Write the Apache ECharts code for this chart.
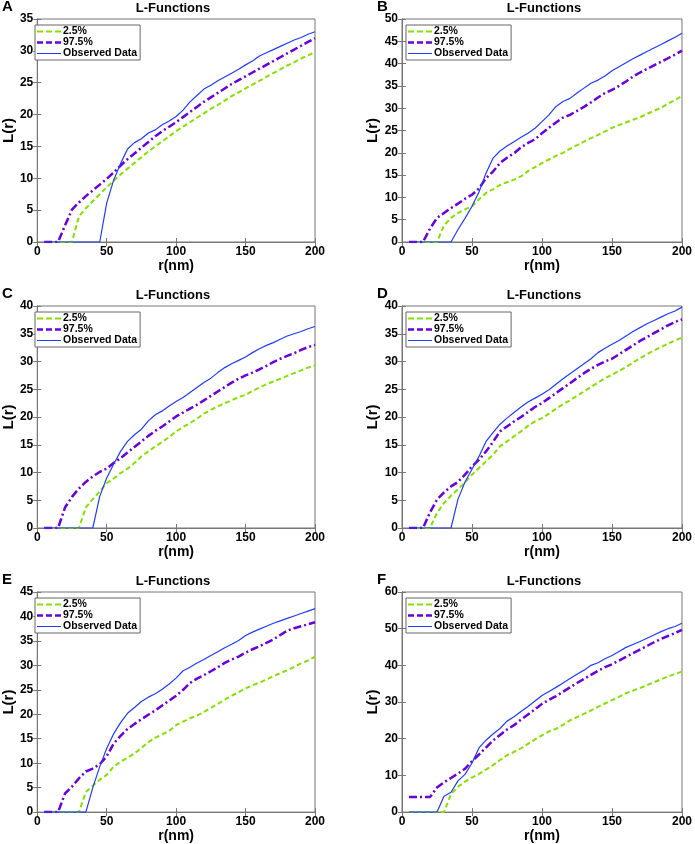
<!DOCTYPE html>
<html>
<head>
<meta charset="utf-8">
<title>L-Functions</title>
<script src="https://cdn.jsdelivr.net/npm/echarts@6/dist/echarts.min.js"></script>
<style>
  html, body { margin: 0; padding: 0; background: #fff; }
  #main { width: 695px; height: 844px; }
</style>
</head>
<body>
<div id="main"></div>
<script>
// r (nm), shared by every panel
const radius = [5, 10, 15, 20, 25, 30, 35, 40, 45, 50, 55, 60, 65, 70, 75, 80, 85, 90, 95, 100,
    105, 110, 115, 120, 125, 130, 135, 140, 145, 150, 155, 160, 165, 170, 175, 180, 185, 190, 195, 200];

const panelLetters = ['A', 'B', 'C', 'D', 'E', 'F'];
const seriesNames = ['2.5%', '97.5%', 'Observed Data'];
const xTicks = [0, 50, 100, 150, 200];
const yMax = [35, 50, 40, 40, 45, 60];
const yStep = [5, 5, 5, 5, 5, 10];

// A
const lowA = [0, 0, 0, 0, 0, 4.0, 5.3, 6.4, 7.5, 8.6, 9.6, 10.6, 11.5, 12.4, 13.3, 14.2, 15.0, 15.8, 16.6, 17.4,
    18.1, 18.8, 19.5, 20.2, 20.9, 21.5, 22.2, 22.9, 23.5, 24.1, 24.7, 25.3, 25.9, 26.5, 27.1, 27.7, 28.2, 28.8, 29.3, 29.8];
const highA = [0, 0, 0, 2.6, 5.1, 6.2, 7.2, 8.1, 9.0, 9.9, 10.9, 12.0, 13.0, 13.9, 14.8, 15.7, 16.6, 17.4, 18.1, 18.8,
    19.6, 20.4, 21.2, 22.0, 22.7, 23.4, 24.1, 24.8, 25.4, 26.0, 26.6, 27.2, 27.8, 28.4, 29.0, 29.6, 30.2, 30.8, 31.4, 32.0];
const obsA = [0, 0, 0, 0, 0, 0, 0, 0, 0, 6.1, 9.7, 12.3, 14.6, 15.6, 16.2, 17.1, 17.6, 18.4, 19.0, 19.7,
    20.7, 22.0, 23.0, 24.0, 24.6, 25.3, 25.9, 26.5, 27.1, 27.8, 28.4, 29.2, 29.7, 30.2, 30.7, 31.2, 31.7, 32.1, 32.6, 33.0];

// B
const lowB = [0, 0, 0, 0, 0, 3.7, 5.4, 6.5, 7.3, 8.0, 9.6, 11.0, 11.8, 12.8, 13.4, 14.0, 14.7, 15.9, 16.8, 17.7,
    18.5, 19.3, 20.0, 20.9, 21.7, 22.5, 23.3, 24.0, 24.8, 25.6, 26.2, 26.8, 27.4, 28.0, 28.7, 29.4, 30.1, 31.0, 31.8, 32.8];
const highB = [0, 0, 0, 3.0, 5.4, 6.5, 7.6, 8.6, 9.7, 10.6, 12.0, 14.3, 15.8, 17.7, 18.9, 19.9, 21.2, 22.2, 23.0, 24.4,
    25.6, 26.8, 27.9, 28.5, 29.4, 30.3, 31.3, 32.4, 33.4, 34.1, 35.0, 36.0, 37.1, 38.0, 38.8, 39.6, 40.4, 41.2, 42.0, 42.9];
const obsB = [0, 0, 0, 0, 0, 0, 0, 2.8, 5.3, 8.0, 11.2, 15.4, 18.8, 20.4, 21.5, 22.5, 23.5, 24.4, 25.5, 27.0,
    28.5, 30.4, 31.5, 32.2, 33.4, 34.5, 35.6, 36.3, 37.2, 38.4, 39.3, 40.2, 41.1, 41.9, 42.7, 43.5, 44.3, 45.1, 45.9, 46.8];

// C
const lowC = [0, 0, 0, 0, 0, 0, 3.7, 5.2, 6.6, 8.1, 8.9, 9.9, 10.7, 11.7, 12.9, 13.8, 14.7, 15.5, 16.4, 17.4,
    18.2, 18.9, 19.7, 20.6, 21.3, 21.9, 22.5, 23.0, 23.6, 24.0, 24.7, 25.3, 25.9, 26.4, 26.9, 27.4, 27.9, 28.4, 28.9, 29.3];
const highC = [0, 0, 0, 3.7, 5.6, 7.1, 8.3, 9.3, 10.1, 10.7, 11.7, 12.6, 13.6, 14.6, 15.6, 16.6, 17.5, 18.3, 19.2, 20.1,
    20.8, 21.5, 22.2, 23.0, 23.8, 24.6, 25.4, 26.2, 26.9, 27.5, 28.0, 28.6, 29.2, 29.9, 30.5, 31.0, 31.5, 32.1, 32.6, 33.0];
const obsC = [0, 0, 0, 0, 0, 0, 0, 0, 5.7, 9.0, 11.5, 13.8, 15.6, 16.8, 17.8, 19.3, 20.4, 21.1, 22.0, 22.8,
    23.5, 24.4, 25.3, 26.2, 27.0, 28.0, 28.9, 29.6, 30.2, 30.8, 31.6, 32.3, 32.9, 33.4, 34.0, 34.6, 35.0, 35.4, 35.9, 36.3];

// D
const lowD = [0, 0, 0, 0, 2.7, 4.5, 5.8, 7.0, 8.2, 9.6, 10.8, 12.0, 13.2, 14.7, 15.6, 16.5, 17.4, 18.4, 19.2, 19.8,
    20.6, 21.5, 22.3, 23.0, 23.8, 24.6, 25.4, 26.2, 27.0, 27.6, 28.3, 29.0, 29.8, 30.6, 31.3, 32.0, 32.6, 33.2, 33.8, 34.3];
const highD = [0, 0, 0, 2.8, 5.1, 6.4, 7.5, 8.3, 9.6, 11.1, 12.3, 13.8, 15.5, 17.4, 18.3, 19.2, 20.0, 20.9, 21.8, 22.5,
    23.4, 24.3, 25.2, 26.1, 27.0, 27.9, 28.7, 29.4, 30.0, 30.5, 31.3, 32.1, 32.9, 33.7, 34.4, 35.1, 35.8, 36.5, 37.1, 37.6];
const obsD = [0, 0, 0, 0, 0, 0, 0, 5.2, 8.3, 10.6, 12.9, 15.6, 17.2, 18.7, 19.8, 20.8, 21.8, 22.7, 23.4, 24.1,
    24.9, 25.9, 26.9, 27.8, 28.7, 29.6, 30.5, 31.6, 32.4, 33.1, 33.8, 34.6, 35.4, 36.1, 36.8, 37.4, 38.0, 38.6, 39.1, 39.8];

// E
const lowE = [0, 0, 0, 0, 0, 0, 4.1, 5.4, 6.6, 7.6, 9.3, 10.3, 11.1, 12.0, 13.1, 14.3, 15.2, 15.9, 16.6, 17.8,
    18.5, 19.2, 19.7, 20.5, 21.3, 22.1, 23.0, 23.8, 24.5, 25.3, 25.9, 26.5, 27.1, 27.8, 28.4, 29.0, 29.7, 30.4, 31.0, 31.8];
const highE = [0, 0, 0, 3.8, 5.2, 6.9, 8.3, 8.9, 9.8, 11.4, 14.0, 15.6, 17.0, 18.0, 19.0, 19.9, 20.8, 21.8, 22.8, 23.8,
    25.0, 26.4, 27.3, 28.0, 28.8, 29.6, 30.5, 31.2, 31.8, 32.6, 33.3, 33.9, 34.6, 35.3, 36.2, 37.1, 37.6, 38.0, 38.4, 38.8];
const obsE = [0, 0, 0, 0, 0, 0, 0, 5.0, 9.3, 13.0, 16.0, 18.3, 20.2, 21.4, 22.6, 23.5, 24.2, 25.1, 26.2, 27.4,
    28.9, 29.6, 30.5, 31.2, 32.0, 32.8, 33.6, 34.3, 35.1, 36.1, 36.8, 37.4, 38.0, 38.6, 39.1, 39.6, 40.1, 40.6, 41.1, 41.6];

// F
const lowF = [0, 0, 0, 0, 0, 0, 4.9, 6.9, 8.3, 9.4, 10.4, 11.6, 12.8, 14.2, 15.5, 16.4, 17.4, 18.6, 19.8, 20.9,
    22.0, 22.7, 23.8, 25.0, 25.9, 26.8, 27.7, 28.7, 29.6, 30.5, 31.4, 32.4, 33.1, 33.8, 34.6, 35.4, 36.2, 37.0, 37.6, 38.3];
const highF = [4.1, 4.1, 4.1, 4.1, 6.7, 8.1, 9.3, 10.5, 11.8, 13.9, 15.7, 17.6, 19.5, 21.0, 22.5, 23.7, 25.2, 26.6, 28.0, 29.5,
    30.6, 31.6, 32.8, 34.0, 35.2, 36.3, 37.4, 38.5, 39.5, 40.3, 41.3, 42.3, 43.3, 44.3, 45.3, 46.3, 47.2, 48.0, 48.8, 49.7];
const obsF = [0, 0, 0, 0, 0, 4.3, 5.4, 8.5, 10.3, 13.4, 17.5, 19.6, 21.3, 22.8, 24.8, 26.0, 27.4, 28.8, 30.3, 31.8,
    32.9, 34.0, 35.2, 36.4, 37.6, 38.7, 40.0, 40.7, 41.8, 42.7, 43.8, 44.9, 45.7, 46.5, 47.4, 48.3, 49.2, 50.0, 50.6, 51.5];

const panelData = [
    [lowA, highA, obsA],
    [lowB, highB, obsB],
    [lowC, highC, obsC],
    [lowD, highD, obsD],
    [lowE, highE, obsE],
    [lowF, highF, obsF]
];

const FONT = '"Liberation Sans", Arial, sans-serif';
const AXIS_COLOR = '#777';
const colors = ['#86e000', '#6a00dc', '#1f3cff'];
const lineTypes = [[5, 3], [8, 3, 2, 3], 'solid'];
const lineWidths = [2, 2.5, 1.2];
// legend samples drawn as little paths (dashes / solid stroke)
const legendIcons = [
    'path://M0,0h6v2h-6z M9,0h6v2h-6z M18,0h6v2h-6z',
    'path://M0,0h6v2.4h-6z M9,0h6v2.4h-6z M18,0h6v2.4h-6z',
    'path://M0,0.5h24v1h-24z'
];

// panel layout: [left, top, height, letterX]
const layout = [
    [31, 19, 223, 2], [402, 19, 223, 377],
    [31, 306, 222, 2], [402, 306, 222, 377],
    [31, 592, 224, 2], [402, 592, 224, 377]
];
const plotWidth = 284;

const grids = [], xAxes = [], yAxes = [], titles = [], legends = [], series = [];

layout.forEach(([left, top, height, letterX], i) => {
    grids.push({
        left: left, top: top, width: plotWidth, height: height,
        show: true, borderColor: AXIS_COLOR, borderWidth: 1, backgroundColor: '#fff'
    });

    // letter label
    titles.push({
        text: panelLetters[i],
        left: letterX, top: top - 20, padding: 0,
        textStyle: { fontFamily: FONT, fontWeight: 'bold', fontSize: 15, color: '#000' }
    });
    // title
    titles.push({
        text: 'L-Functions',
        left: left + plotWidth / 2, top: top - 17, textAlign: 'center', padding: 0,
        textStyle: { fontFamily: FONT, fontWeight: 'bold', fontSize: 13, color: '#000' }
    });

    legends.push({
        data: seriesNames.map((n, k) => ({ name: n, icon: legendIcons[k] })),
        orient: 'vertical',
        left: left + 4, top: top + 6,
        backgroundColor: '#fff',
        borderColor: '#666', borderWidth: 1,
        padding: [1, 3, 1, 2],
        itemGap: 0,
        itemWidth: 24, itemHeight: 3,
        selectedMode: false,
        textStyle: { fontFamily: FONT, fontWeight: 'bold', fontSize: 10.5, lineHeight: 10, color: '#000', padding: [0, 0, 0, -3] }
    });
});

const axisLineStyle = { show: true, lineStyle: { color: AXIS_COLOR, width: 1 } };
const tickStyle = { show: true, inside: true, length: 4, lineStyle: { color: AXIS_COLOR } };
const labelStyle = { fontFamily: FONT, fontWeight: 'bold', fontSize: 12, color: '#000' };

// bottom / left axes with labels
layout.forEach((_, i) => {
    xAxes.push({
        type: 'value', gridIndex: i, min: 0, max: 200, interval: xTicks[1] - xTicks[0],
        position: 'bottom',
        name: 'r(nm)', nameLocation: 'middle', nameGap: 15,
        nameTextStyle: { fontFamily: FONT, fontWeight: 'bold', fontSize: 14, color: '#000' },
        axisLine: axisLineStyle, axisTick: tickStyle,
        axisLabel: Object.assign({ margin: 4 }, labelStyle),
        splitLine: { show: false }
    });
    yAxes.push({
        type: 'value', gridIndex: i, min: 0, max: yMax[i], interval: yStep[i],
        position: 'left',
        name: 'L(r)', nameLocation: 'middle', nameGap: 18,
        nameTextStyle: { fontFamily: FONT, fontWeight: 'bold', fontSize: 15, color: '#000' },
        axisLine: axisLineStyle, axisTick: tickStyle,
        axisLabel: Object.assign({ margin: 4 }, labelStyle),
        splitLine: { show: false }
    });
});
// top / right axes, ticks only (closed box)
layout.forEach((_, i) => {
    xAxes.push({
        type: 'value', gridIndex: i, min: 0, max: 200, interval: xTicks[1] - xTicks[0],
        position: 'top',
        axisLine: axisLineStyle, axisTick: tickStyle,
        axisLabel: { show: false }, splitLine: { show: false }
    });
    yAxes.push({
        type: 'value', gridIndex: i, min: 0, max: yMax[i], interval: yStep[i],
        position: 'right',
        axisLine: axisLineStyle, axisTick: tickStyle,
        axisLabel: { show: false }, splitLine: { show: false }
    });
});

panelData.forEach((lines, i) => {
    lines.forEach((values, k) => {
        series.push({
            type: 'line',
            name: seriesNames[k],
            xAxisIndex: i, yAxisIndex: i,
            data: radius.map((r, j) => [r, values[j]]),
            showSymbol: false, symbol: 'none',
            color: colors[k],
            lineStyle: { color: colors[k], width: lineWidths[k], type: lineTypes[k] },
            z: 2 + k,
            animation: false
        });
    });
});

const chart = echarts.init(document.getElementById('main'));
chart.setOption({
    backgroundColor: '#fff',
    animation: false,
    title: titles,
    legend: legends,
    grid: grids,
    xAxis: xAxes,
    yAxis: yAxes,
    series: series
});
</script>
</body>
</html>
